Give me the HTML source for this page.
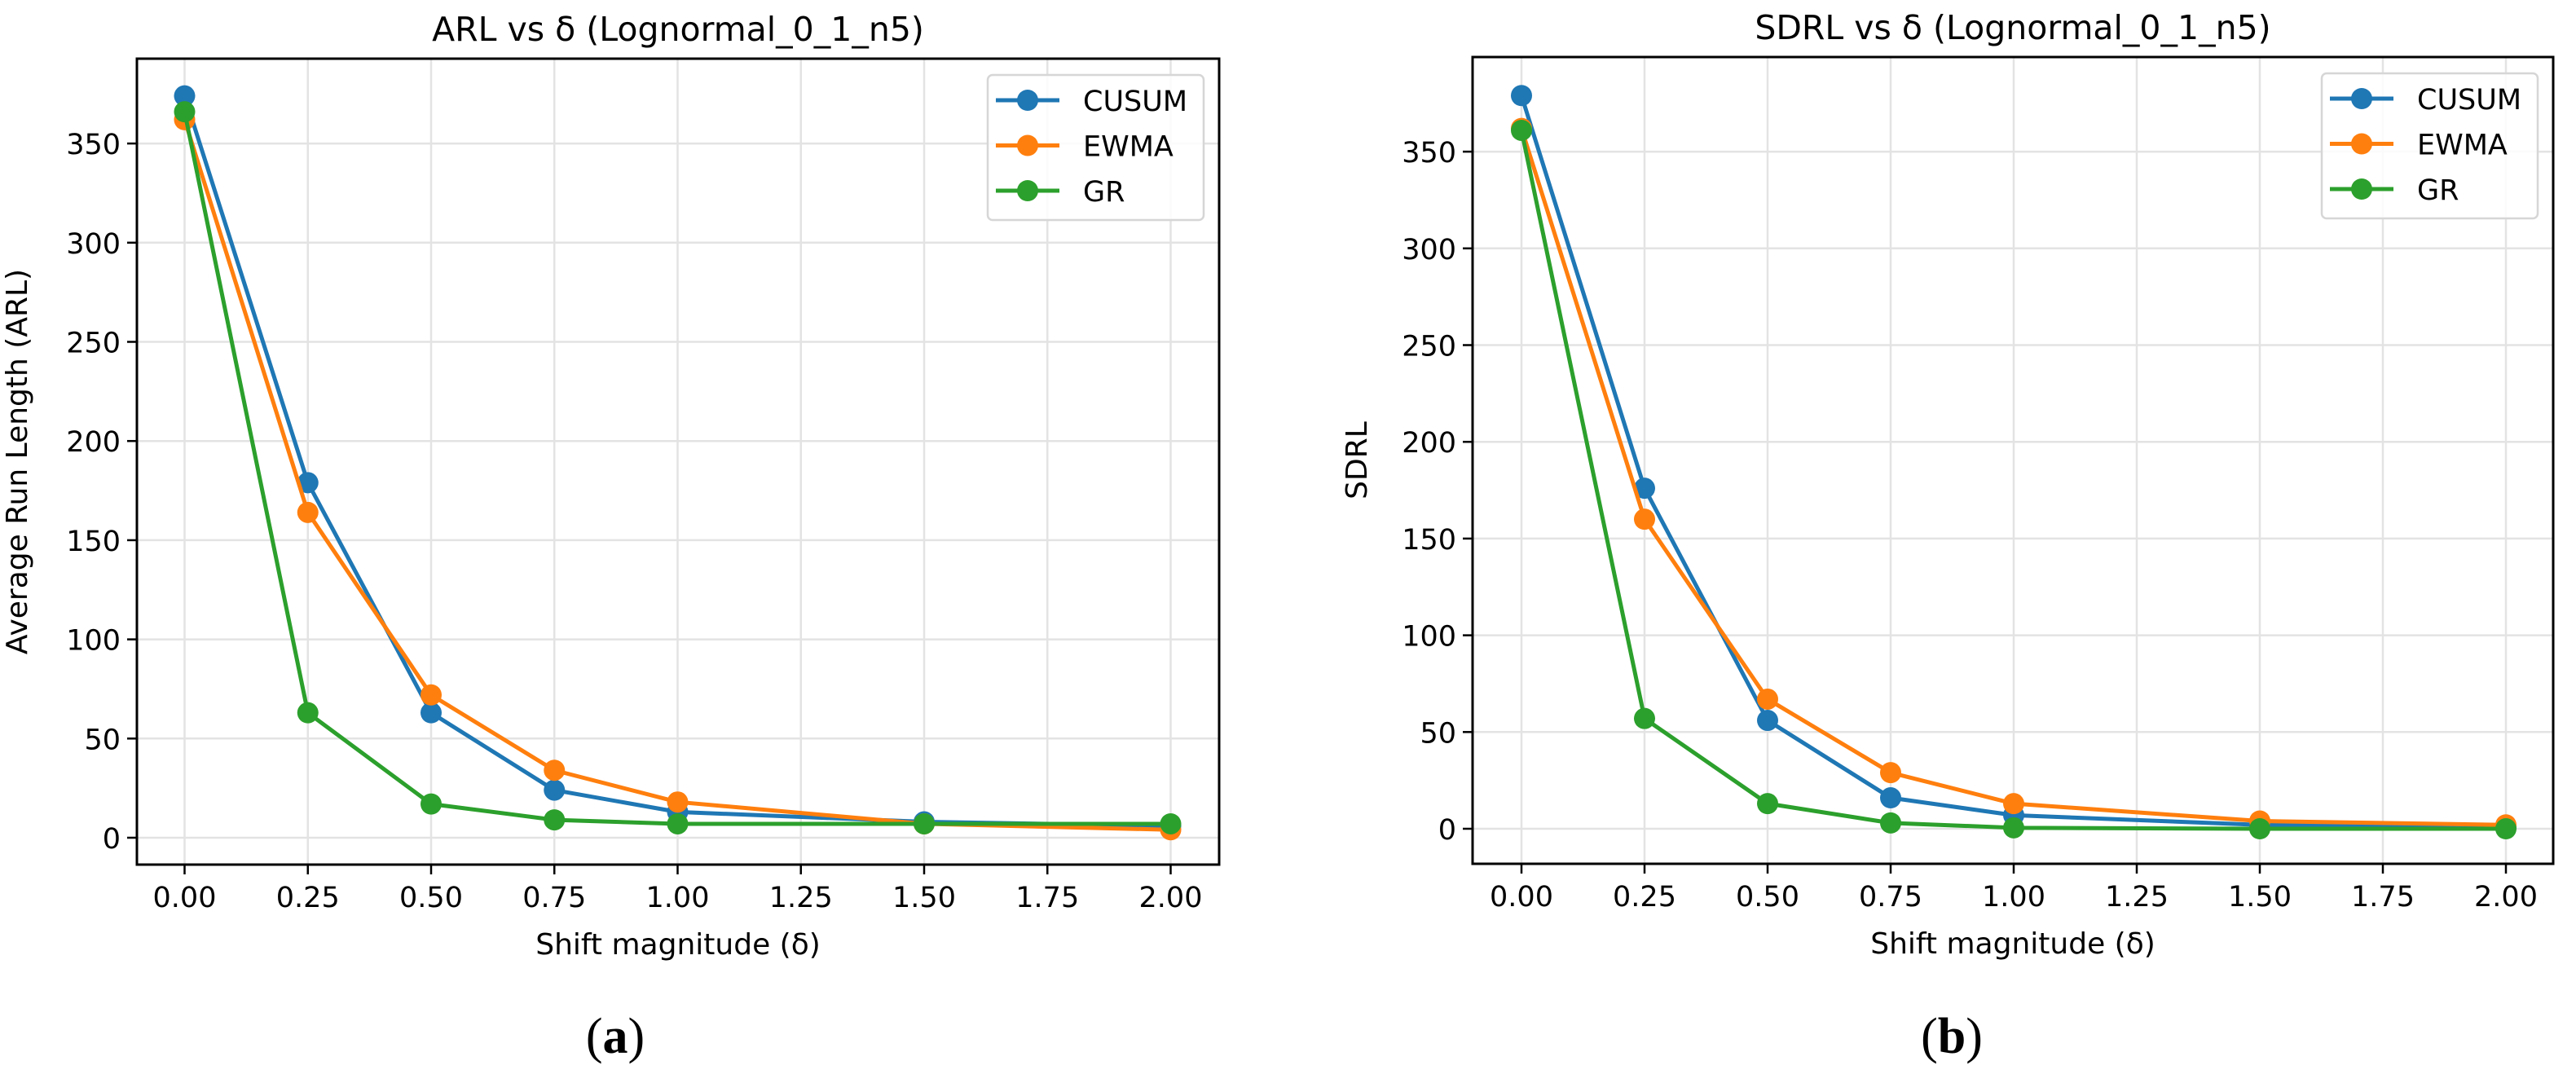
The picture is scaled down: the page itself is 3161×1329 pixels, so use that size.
<!DOCTYPE html>
<html><head><meta charset="utf-8"><style>
html,body{margin:0;padding:0;background:#fff;}
svg{display:block;font-family:"DejaVu Sans","Liberation Sans",sans-serif;}
</style></head><body>
<svg id="fig" width="3161" height="1329" viewBox="0 0 3161 1329" xmlns="http://www.w3.org/2000/svg">
<rect width="3161" height="1329" fill="#fff"/>
</svg>
<script>
const xValues = [0, 0.25, 0.5, 0.75, 1.0, 1.5, 2.0];
const xTicks = [0, 0.25, 0.5, 0.75, 1.0, 1.25, 1.5, 1.75, 2.0];
const xTickLabels = ["0.00","0.25","0.50","0.75","1.00","1.25","1.50","1.75","2.00"];
const yTicks = [0, 50, 100, 150, 200, 250, 300, 350];
const seriesNames = ["CUSUM","EWMA","GR"];
const arlCusum = [374, 179, 63, 24, 13, 8, 6];
const arlEwma = [362, 164, 72, 34, 18, 7, 4];
const arlGr = [366, 63, 17, 9, 7, 7, 7];
const sdrlCusum = [379, 176, 56, 16, 7, 2, 1];
const sdrlEwma = [362, 160, 67, 29, 13, 4, 2];
const sdrlGr = [361, 57, 13, 3, 0.5, 0, 0];
const colors = ["#1f77b4","#ff7f0e","#2ca02c"];

const NS = "http://www.w3.org/2000/svg";
const svg = document.getElementById("fig");
function mk(tag, attrs, parent, text) {
  const e = document.createElementNS(NS, tag);
  for (const k in attrs) e.setAttribute(k, attrs[k]);
  if (text !== undefined) e.textContent = text;
  (parent || svg).appendChild(e);
  return e;
}

function drawChart(cfg) {
  const g = mk("g", {});
  
  
  const L = cfg.left, R = cfg.right, T = cfg.top, B = cfg.bottom;
  const xs = v => cfg.x0 + v * cfg.xUnit;
  const ys = v => cfg.y0 - v * cfg.yUnit;
  // grid
  xTicks.forEach(t => {
    const l = mk("line", {x1: xs(t), x2: xs(t), y1: T, y2: B, stroke: "#e3e3e3", "stroke-width": 2.5}, g);
    
    
  });
  yTicks.forEach(t => {
    const l = mk("line", {x1: L, x2: R, y1: ys(t), y2: ys(t), stroke: "#e3e3e3", "stroke-width": 2.5}, g);
    
    
  });
  // series
  cfg.series.forEach((vals, si) => {
    const pts = vals.map((v, i) => xs(xValues[i]) + "," + ys(v)).join(" ");
    const pl = mk("polyline", {points: pts, fill: "none", stroke: colors[si], "stroke-width": 5, "stroke-linejoin": "round"}, g);
    
    
    vals.forEach((v, i) => {
      const c = mk("circle", {cx: xs(xValues[i]), cy: ys(v), r: 13, fill: colors[si]}, g);
      
      
    });
  });
  // frame
  const fr = mk("rect", {x: L, y: T, width: R - L, height: B - T, fill: "none", stroke: "#000", "stroke-width": 3}, g);
  
  
  // x ticks
  xTicks.forEach((t, i) => {
    mk("line", {x1: xs(t), x2: xs(t), y1: B, y2: B + 12, stroke: "#000", "stroke-width": 2.5}, g);
    const tx = mk("text", {x: xs(t), y: B + 52, "font-size": 35, "text-anchor": "middle", fill: "#000"}, g, xTickLabels[i]);
    
    
  });
  yTicks.forEach(t => {
    mk("line", {x1: L - 12, x2: L, y1: ys(t), y2: ys(t), stroke: "#000", "stroke-width": 2.5}, g);
    const tx = mk("text", {x: L - 20, y: ys(t) + 13, "font-size": 35, "text-anchor": "end", fill: "#000"}, g, String(t));
    
    
  });
  // titles
  const ti = mk("text", {x: (L + R) / 2, y: T - 22, "font-size": 41, "text-anchor": "middle", fill: "#000"}, g, cfg.title);
  
  
  const xl = mk("text", {x: (L + R) / 2, y: B + 110, "font-size": 36, "text-anchor": "middle", fill: "#000"}, g, "Shift magnitude (δ)");
  
  
  const yc = (T + B) / 2;
  const yl = mk("text", {x: cfg.ylabelX, y: yc, "font-size": 36, "text-anchor": "middle", fill: "#000", transform: `rotate(-90 ${cfg.ylabelX} ${yc})`}, g, cfg.ylabel);
  
  
  // legend
  const lg = mk("g", {}, g);
  
  
  const lx = R - 284, ly = T + 20;
  mk("rect", {x: lx, y: ly, width: 265, height: 178, rx: 6, fill: "#fff", "fill-opacity": 0.85, stroke: "#d6d6d6", "stroke-width": 2.5}, lg);
  seriesNames.forEach((n, i) => {
    const cy = ly + 31 + i * 55.5;
    const e = mk("g", {}, lg);
    
    
    mk("line", {x1: lx + 10, x2: lx + 88, y1: cy, y2: cy, stroke: colors[i], "stroke-width": 5}, e);
    mk("circle", {cx: lx + 49, cy: cy, r: 13, fill: colors[i]}, e);
    mk("text", {x: lx + 117, y: cy + 13, "font-size": 35, fill: "#000"}, e, n);
  });
  // subcaption
  const sc = mk("text", {x: cfg.capX, y: 1292, "font-size": 62, "font-family": "Liberation Serif, serif", "text-anchor": "middle", fill: "#000"}, svg);
  
  
  mk("tspan", {}, sc, "(");
  mk("tspan", {"font-weight": "bold"}, sc, cfg.cap);
  mk("tspan", {}, sc, ")");
}

drawChart({name: "arl-chart", left: 168, right: 1496, top: 72, bottom: 1061,
  x0: 226.5, xUnit: 605, y0: 1028, yUnit: 2.434,
  title: "ARL vs δ (Lognormal_0_1_n5)", ylabel: "Average Run Length (ARL)", ylabelX: 33,
  series: [arlCusum, arlEwma, arlGr], cap: "a", capX: 755});
drawChart({name: "sdrl-chart", left: 1807, right: 3133, top: 70, bottom: 1060,
  x0: 1867, xUnit: 604, y0: 1017, yUnit: 2.374,
  title: "SDRL vs δ (Lognormal_0_1_n5)", ylabel: "SDRL", ylabelX: 1677,
  series: [sdrlCusum, sdrlEwma, sdrlGr], cap: "b", capX: 2395});
</script>
</body></html>
